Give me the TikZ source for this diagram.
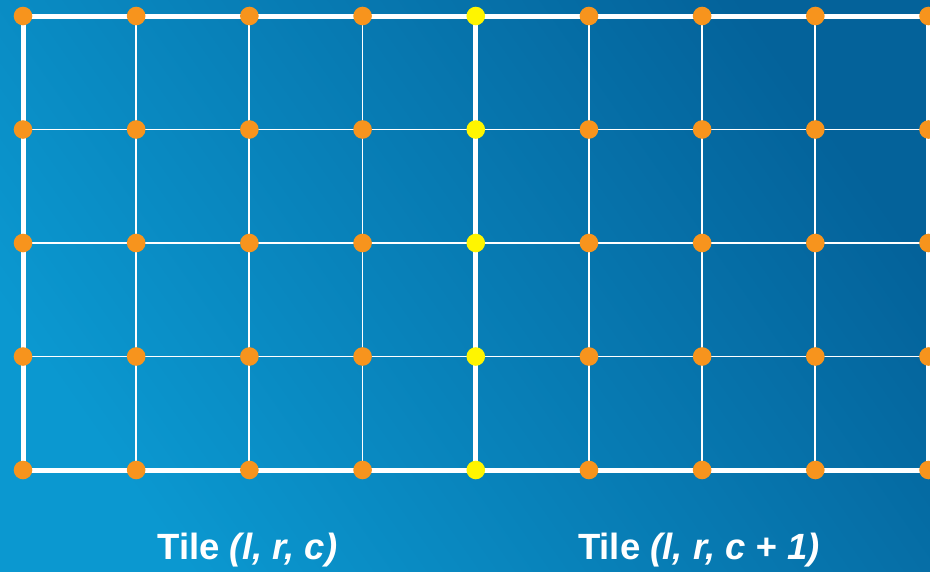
\documentclass[tikz,border=0pt]{standalone}
\usepackage{fontspec}
\setmainfont{Liberation Sans}
\begin{document}
\begin{tikzpicture}[x=1pt,y=-1pt,
  dotnode/.style={circle,inner sep=0pt,minimum size=18.6pt,fill=#1},
  thinline/.style={draw=white,line width=1.8pt},
  thickline/.style={draw=white,line width=5pt},
  lbl/.style={text=white,font=\fontsize{36.5}{42}\selectfont\bfseries,anchor=base,inner sep=0pt}]
\definecolor{bgA}{HTML}{0B98D0}
\definecolor{bgB}{HTML}{04629A}
\definecolor{dotorange}{HTML}{F7941D}
\definecolor{dotyellow}{HTML}{FFF500}
\useasboundingbox (0,0) rectangle (930,571);
\shade[shading=axis,bottom color=bgA,top color=bgB,shading angle=-55] (0,0) rectangle (930,571);
% grid points
\foreach \i in {0,...,8}{
  \foreach \j in {0,...,4}{
    \pgfmathsetmacro{\xx}{23+113.19*\i}
    \pgfmathsetmacro{\yy}{16+113.5*\j}
    \coordinate (p-\i-\j) at (\xx,\yy);
  }
}
% thin interior lines
\foreach \j in {1,2,3}{
  \foreach \i [evaluate=\i as \k using int(\i+1)] in {0,...,7}{
    \draw[thinline] (p-\i-\j) -- (p-\k-\j);
  }
}
\foreach \i in {1,2,3,5,6,7}{
  \foreach \j [evaluate=\j as \k using int(\j+1)] in {0,...,3}{
    \draw[thinline] (p-\i-\j) -- (p-\i-\k);
  }
}
% thick tile borders
\foreach \j in {0,4}{
  \foreach \i [evaluate=\i as \k using int(\i+1)] in {0,...,7}{
    \draw[thickline] (p-\i-\j) -- (p-\k-\j);
  }
}
\foreach \i in {0,4,8}{
  \foreach \j [evaluate=\j as \k using int(\j+1)] in {0,...,3}{
    \draw[thickline] (p-\i-\j) -- (p-\i-\k);
  }
}
% dot nodes
\foreach \i in {0,...,8}{
  \foreach \j in {0,...,4}{
    \ifnum\i=4
      \node[dotnode=dotyellow] (d-\i-\j) at (p-\i-\j) {};
    \else
      \node[dotnode=dotorange] (d-\i-\j) at (p-\i-\j) {};
    \fi
  }
}
\node[lbl] (t1) at (247.5,559) {Tile \textit{(l, r, c)}};
\node[lbl] (t2) at (699,559) {Tile \textit{(l, r, c + 1)}};
\end{tikzpicture}
\end{document}
